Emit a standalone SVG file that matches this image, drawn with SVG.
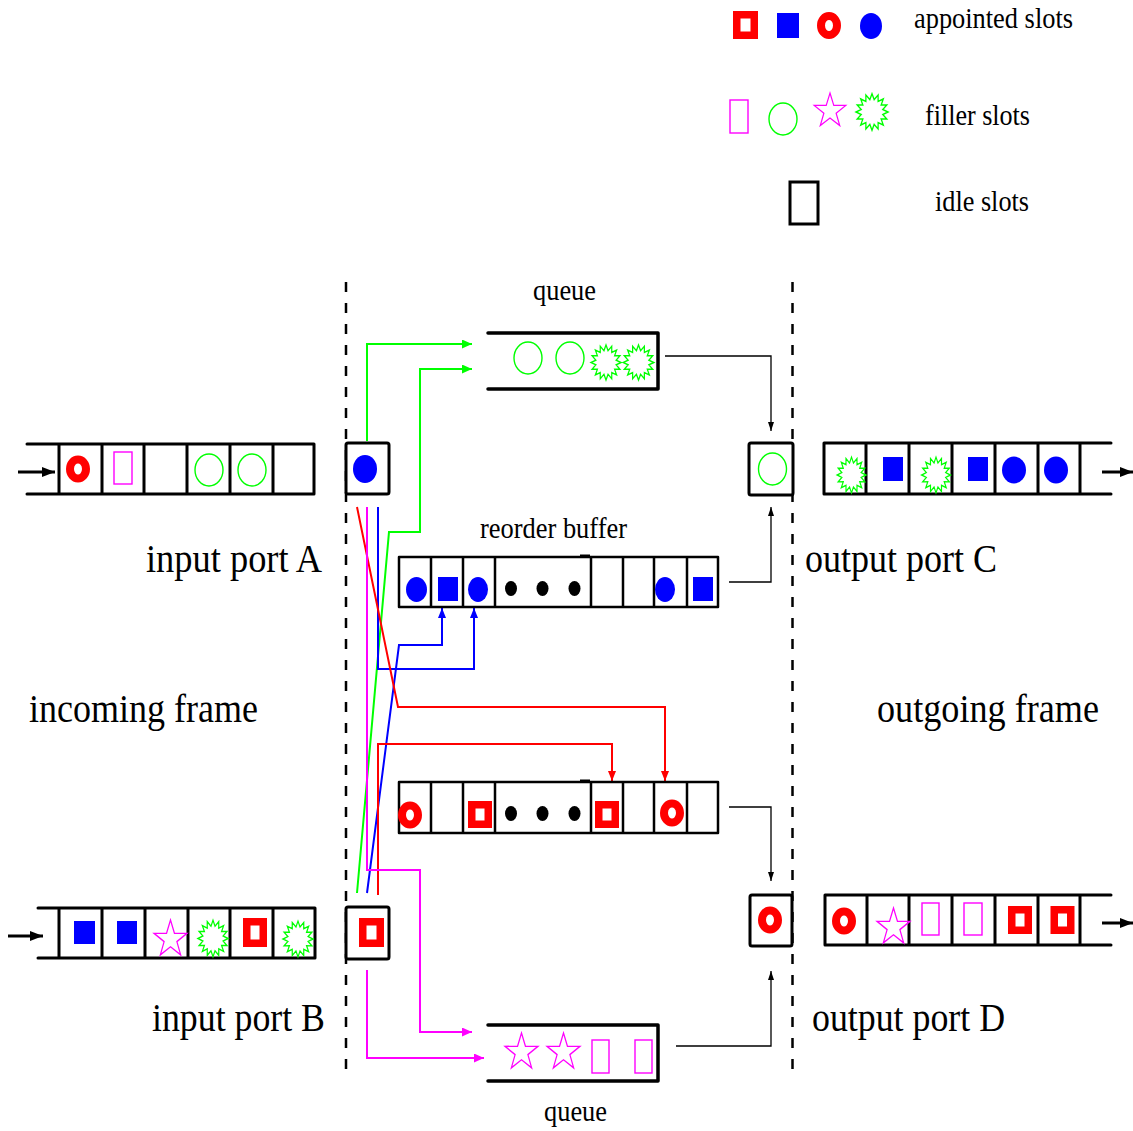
<svg xmlns="http://www.w3.org/2000/svg" xmlns:xlink="http://www.w3.org/1999/xlink" width="1133" height="1131" viewBox="0 0 1133 1131">
<style>
text{font-family:"Liberation Serif","Times New Roman",serif;fill:#000}
.sm{font-size:30px}
.bg{font-size:41px}
.frame{fill:none;stroke:#000;stroke-width:3;stroke-linecap:round;stroke-linejoin:round}
.buf{fill:none;stroke:#000;stroke-width:2.5;stroke-linejoin:round}
.cell{fill:#fff;stroke:#000;stroke-width:3;stroke-linejoin:round}
.dash{stroke:#000;stroke-width:2.5;stroke-dasharray:10 11;fill:none}
.bl{fill:#0000ff}
.ring{fill:none;stroke:#ff0000;stroke-width:8}
.rsq{fill:#fff;stroke:#ff0000;stroke-width:7.5}
.mrect{fill:none;stroke:#ff00ff;stroke-width:1.4}
.gell{fill:none;stroke:#00ff00;stroke-width:1.4}
.burst{fill:none;stroke:#00ff00;stroke-width:1.3}
.star{fill:none;stroke:#ff00ff;stroke-width:1.3}
.dot{fill:#000}
.thin{fill:none;stroke:#000;stroke-width:1.3}
.cg{fill:none;stroke:#00ff00;stroke-width:2}
.cr{fill:none;stroke:#ff0000;stroke-width:2}
.cb{fill:none;stroke:#0000ff;stroke-width:2}
.cm{fill:none;stroke:#ff00ff;stroke-width:2}
.inarr{stroke:#000;stroke-width:3;fill:none}
</style>
<defs>
<path id="burst" class="burst" d="M16,0 L10.79,2.15 L14.78,6.12 L9.15,6.11 L11.31,11.31 L6.11,9.15 L6.12,14.78 L2.15,10.79 L0,16 L-2.15,10.79 L-6.12,14.78 L-6.11,9.15 L-11.31,11.31 L-9.15,6.11 L-14.78,6.12 L-10.79,2.15 L-16,0 L-10.79,-2.15 L-14.78,-6.12 L-9.15,-6.11 L-11.31,-11.31 L-6.11,-9.15 L-6.12,-14.78 L-2.15,-10.79 L0,-16 L2.15,-10.79 L6.12,-14.78 L6.11,-9.15 L11.31,-11.31 L9.15,-6.11 L14.78,-6.12 L10.79,-2.15 Z"/>
<path id="star" class="star" d="M0,-18 L4.11,-5.66 L17.12,-5.56 L6.66,2.16 L10.58,14.56 L0,7 L-10.58,14.56 L-6.66,2.16 L-17.12,-5.56 L-4.11,-5.66 Z"/>
<marker id="ak" markerUnits="userSpaceOnUse" markerWidth="13" markerHeight="10" refX="13" refY="5" orient="auto"><path d="M0,0 L13,5 L0,10 Z" fill="#000"/></marker>
<marker id="at" markerUnits="userSpaceOnUse" markerWidth="9" markerHeight="6" refX="9" refY="3" orient="auto"><path d="M0,0 L9,3 L0,6 Z" fill="#000"/></marker>
<marker id="ag" markerUnits="userSpaceOnUse" markerWidth="10" markerHeight="9" refX="10" refY="4.5" orient="auto"><path d="M0,0 L10,4.5 L0,9 Z" fill="#00ff00"/></marker>
<marker id="ar" markerUnits="userSpaceOnUse" markerWidth="10" markerHeight="8" refX="10" refY="4" orient="auto"><path d="M0,0 L10,4 L0,8 Z" fill="#ff0000"/></marker>
<marker id="abl" markerUnits="userSpaceOnUse" markerWidth="10" markerHeight="8" refX="10" refY="4" orient="auto"><path d="M0,0 L10,4 L0,8 Z" fill="#0000ff"/></marker>
<marker id="am" markerUnits="userSpaceOnUse" markerWidth="10" markerHeight="9" refX="10" refY="4.5" orient="auto"><path d="M0,0 L10,4.5 L0,9 Z" fill="#ff00ff"/></marker>
</defs>
<rect width="1133" height="1131" fill="#fff"/>

<g id="legend">
<rect class="rsq" x="736.75" y="14.75" width="17.5" height="20.5"/>
<rect class="bl" x="777" y="13" width="22" height="25"/>
<ellipse class="ring" cx="829" cy="25.5" rx="8" ry="9.5"/>
<ellipse class="bl" cx="871" cy="26" rx="11" ry="13"/>
<text class="sm" x="914" y="28" textLength="159" lengthAdjust="spacingAndGlyphs">appointed slots</text>
<rect class="mrect" x="730" y="100" width="18" height="33"/>
<ellipse class="gell" cx="783" cy="119" rx="14" ry="16"/>
<use xlink:href="#star" transform="translate(830,111) scale(0.92,1)"/>
<use xlink:href="#burst" transform="translate(872,112) scale(1,1.15)"/>
<text class="sm" x="925" y="125" textLength="105" lengthAdjust="spacingAndGlyphs">filler slots</text>
<rect x="790" y="182" width="28" height="42" fill="none" stroke="#000" stroke-width="3"/>
<text class="sm" x="935" y="211" textLength="94" lengthAdjust="spacingAndGlyphs">idle slots</text>
</g>

<g id="boundaries">
<line class="dash" x1="346" y1="282" x2="346" y2="1072"/>
<line class="dash" x1="792.5" y1="282" x2="792.5" y2="1072"/>
</g>

<g id="connectors">
<!-- green from A -->
<path class="cg" d="M367,441 V344 H472" marker-end="url(#ag)"/>
<!-- green from B -->
<path class="cg" d="M357,893 L389,532 H420 V369 H472" marker-end="url(#ag)"/>
<!-- blue from A -->
<path class="cb" d="M378,507 V669 H474 V608" marker-end="url(#abl)"/>
<!-- blue from B -->
<path class="cb" d="M367,893 L399,645 H442 V608" marker-end="url(#abl)"/>
<!-- red from A -->
<path class="cr" d="M357,507 L398,707 H665 V781" marker-end="url(#ar)"/>
<!-- red from B -->
<path class="cr" d="M378,895 V744 H612 V781" marker-end="url(#ar)"/>
<!-- magenta from A -->
<path class="cm" d="M367,507 V870 H420 V1032 H472" marker-end="url(#am)"/>
<!-- magenta from B -->
<path class="cm" d="M367,970 V1058 H484" marker-end="url(#am)"/>
<!-- to outputs -->
<path class="thin" d="M665,356 H771 V431" marker-end="url(#at)"/>
<path class="thin" d="M729,582 H771 V507" marker-end="url(#at)"/>
<path class="thin" d="M729,807 H771 V881" marker-end="url(#at)"/>
<path class="thin" d="M676,1046 H771 V971" marker-end="url(#at)"/>
<!-- frame arrows -->
<line class="inarr" x1="18" y1="472" x2="55" y2="472" marker-end="url(#ak)"/>
<line class="inarr" x1="8" y1="936" x2="43" y2="936" marker-end="url(#ak)"/>
<line class="inarr" x1="1102" y1="472" x2="1133" y2="472" marker-end="url(#ak)"/>
<line class="inarr" x1="1102" y1="923" x2="1133" y2="923" marker-end="url(#ak)"/>
</g>

<g id="input-port-A">
<path class="frame" d="M27,444 H314 V494 H27 M59,444 V494 M102,444 V494 M144,444 V494 M187,444 V494 M230,444 V494 M273,444 V494"/>
<ellipse class="ring" cx="78" cy="469" rx="8" ry="9.5"/>
<rect class="mrect" x="114" y="452" width="18" height="32"/>
<ellipse class="gell" cx="209" cy="470" rx="14" ry="16"/>
<ellipse class="gell" cx="252" cy="470" rx="14" ry="16"/>
<text class="bg" x="146" y="572" textLength="176" lengthAdjust="spacingAndGlyphs">input port A</text>
</g>

<g id="switch-A">
<rect class="cell" x="346" y="443" width="43" height="51" rx="2"/>
<ellipse class="bl" cx="365" cy="469" rx="12" ry="14"/>
</g>

<g id="input-port-B">
<path class="frame" d="M38,908 H315 V958 H38 M59,908 V958 M102,908 V958 M145,908 V958 M188,908 V958 M230,908 V958 M273,908 V958"/>
<rect class="bl" x="74" y="921" width="21" height="23"/>
<rect class="bl" x="117" y="921" width="20" height="23"/>
<use xlink:href="#star" transform="translate(170.5,939.3) scale(0.96,1.07)"/>
<use xlink:href="#burst" transform="translate(213,938.5) scale(0.94,1.14)"/>
<rect class="rsq" x="246.75" y="921.75" width="16.5" height="21.5"/>
<use xlink:href="#burst" transform="translate(298,939) scale(0.94,1.12)"/>
<text class="bg" x="152" y="1031" textLength="173" lengthAdjust="spacingAndGlyphs">input port B</text>
</g>

<g id="switch-B">
<rect class="cell" x="346" y="907" width="43" height="52" rx="2"/>
<rect class="rsq" x="362.75" y="921.75" width="17.5" height="21.5"/>
</g>

<g id="queue-top">
<path class="frame" d="M488,333 H658 V389 H488" style="stroke-width:3.5"/>
<ellipse class="gell" cx="528" cy="358" rx="14" ry="16"/>
<ellipse class="gell" cx="570" cy="358" rx="14" ry="16"/>
<use xlink:href="#burst" transform="translate(606,362.5) scale(0.94,1.1)"/>
<use xlink:href="#burst" transform="translate(638.5,362.5) scale(0.96,1.1)"/>
<text class="sm" x="533" y="300" textLength="63" lengthAdjust="spacingAndGlyphs">queue</text>
</g>

<g id="reorder-buffer">
<rect class="buf" x="399" y="557" width="319" height="50"/>
<path class="buf" d="M431,557 V607 M463,557 V607 M495,557 V607 M591,557 V607 M623,557 V607 M654,557 V607 M687,557 V607"/>
<line x1="580" y1="555.5" x2="590" y2="555.5" stroke="#000" stroke-width="2"/>
<ellipse class="bl" cx="416.5" cy="589.5" rx="10.5" ry="12.5"/>
<rect class="bl" x="438" y="577" width="20" height="24"/>
<ellipse class="bl" cx="478" cy="589.5" rx="10" ry="12.5"/>
<ellipse class="dot" cx="511" cy="588.5" rx="6" ry="7.5"/>
<ellipse class="dot" cx="542.5" cy="588.5" rx="6" ry="7.5"/>
<ellipse class="dot" cx="574.5" cy="588.5" rx="6" ry="7.5"/>
<ellipse class="bl" cx="665" cy="589.5" rx="10" ry="12.5"/>
<rect class="bl" x="693" y="577" width="20" height="24"/>
<text class="sm" x="480" y="538" textLength="147" lengthAdjust="spacingAndGlyphs">reorder buffer</text>
</g>

<g id="red-buffer">
<rect class="buf" x="399" y="782" width="319" height="51"/>
<path class="buf" d="M431,782 V833 M463,782 V833 M495,782 V833 M591,782 V833 M623,782 V833 M654,782 V833 M687,782 V833"/>
<line x1="580" y1="780.5" x2="590" y2="780.5" stroke="#000" stroke-width="2"/>
<ellipse class="ring" cx="410" cy="815" rx="8" ry="9.5"/>
<rect class="rsq" x="471.75" y="804.75" width="16.5" height="19.5"/>
<ellipse class="dot" cx="511" cy="813.5" rx="6" ry="7.5"/>
<ellipse class="dot" cx="542.5" cy="813.5" rx="6" ry="7.5"/>
<ellipse class="dot" cx="574.5" cy="813.5" rx="6" ry="7.5"/>
<rect class="rsq" x="598.75" y="804.75" width="16.5" height="19.5"/>
<ellipse class="ring" cx="672" cy="813" rx="8" ry="9.5"/>
</g>

<g id="queue-bottom">
<path class="frame" d="M488,1025 H658 V1081 H488" style="stroke-width:3.5"/>
<use xlink:href="#star" transform="translate(521.5,1052.3) scale(0.96,1.07)"/>
<use xlink:href="#star" transform="translate(563.5,1052.3) scale(0.96,1.07)"/>
<rect class="mrect" x="592" y="1040" width="17" height="33"/>
<rect class="mrect" x="635" y="1040" width="17" height="33"/>
<text class="sm" x="544" y="1121" textLength="63" lengthAdjust="spacingAndGlyphs">queue</text>
</g>

<g id="switch-C">
<rect class="cell" x="749" y="443" width="44" height="52" rx="2"/>
<ellipse class="gell" cx="772.5" cy="469" rx="14" ry="16"/>
</g>

<g id="output-port-C">
<path class="frame" d="M1111,443 H824 V494 H1111 M866,443 V494 M909,443 V494 M952,443 V494 M995,443 V494 M1038,443 V494 M1080,443 V494"/>
<use xlink:href="#burst" transform="translate(851.5,475) scale(0.9,1.12)"/>
<rect class="bl" x="883" y="457" width="20" height="24"/>
<use xlink:href="#burst" transform="translate(936,475) scale(0.9,1.12)"/>
<rect class="bl" x="968" y="457" width="20" height="24"/>
<ellipse class="bl" cx="1014" cy="470" rx="12" ry="13.5"/>
<ellipse class="bl" cx="1056" cy="470" rx="12" ry="13.5"/>
<text class="bg" x="805" y="572" textLength="192" lengthAdjust="spacingAndGlyphs">output port C</text>
</g>

<g id="switch-D">
<rect class="cell" x="750" y="895" width="42" height="51" rx="2"/>
<ellipse class="ring" cx="770" cy="920" rx="8" ry="9.5"/>
</g>

<g id="output-port-D">
<path class="frame" d="M1111,895 H825 V945 H1111 M867,895 V945 M909,895 V945 M952,895 V945 M995,895 V945 M1038,895 V945 M1080,895 V945"/>
<ellipse class="ring" cx="844" cy="921" rx="8" ry="9.5"/>
<use xlink:href="#star" transform="translate(893.5,927.3) scale(0.96,1.07)"/>
<rect class="mrect" x="922" y="903" width="17" height="32"/>
<rect class="mrect" x="964" y="903" width="18" height="32"/>
<rect class="rsq" x="1011.75" y="909.75" width="16.5" height="20.5"/>
<rect class="rsq" x="1054.25" y="909.75" width="16.5" height="20.5"/>
<text class="bg" x="812" y="1031" textLength="193" lengthAdjust="spacingAndGlyphs">output port D</text>
</g>

<g id="frame-labels">
<text class="bg" x="29" y="722" textLength="229" lengthAdjust="spacingAndGlyphs">incoming frame</text>
<text class="bg" x="877" y="722" textLength="222" lengthAdjust="spacingAndGlyphs">outgoing frame</text>
</g>
</svg>
